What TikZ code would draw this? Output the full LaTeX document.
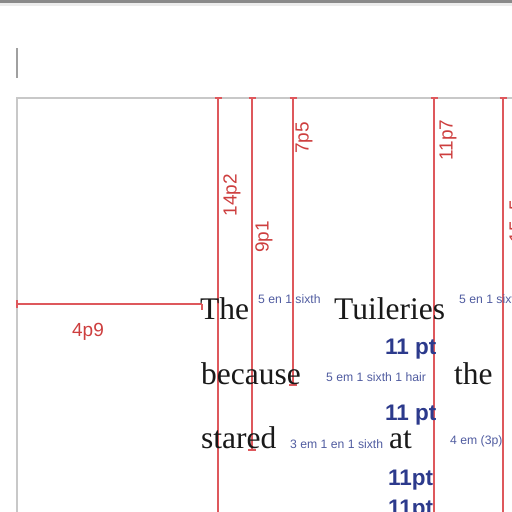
\documentclass[tikz,border=0pt]{standalone}
\usepackage{fontspec}
\setmainfont{Liberation Serif}
\setsansfont{Liberation Sans}
\definecolor{guidered}{RGB}{222,88,92}
\definecolor{labelred}{RGB}{205,62,62}
\definecolor{framegray}{RGB}{200,200,200}
\definecolor{bargray}{RGB}{138,138,138}
\definecolor{barlight}{RGB}{236,236,236}
\definecolor{cursorgray}{RGB}{160,160,160}
\definecolor{noteblue}{RGB}{80,92,160}
\definecolor{sizeblue}{RGB}{44,58,140}
\begin{document}
\begin{tikzpicture}[x=1pt,y=-1pt,
  guide/.style={draw=guidered,line width=1.4pt},
  frameline/.style={draw=framegray,line width=2pt},
  dimlabel/.style={text=labelred,font=\sffamily\fontsize{19}{19}\selectfont,inner sep=0pt},
  vlabel/.style={dimlabel,rotate=90},
  word/.style={font=\fontsize{31.5}{31.5}\selectfont,anchor=base west,inner sep=0pt,text=black!90},
  note/.style={font=\sffamily\fontsize{12.2}{12.2}\selectfont,text=noteblue,anchor=west,inner sep=0pt},
  size/.style={font=\sffamily\bfseries\fontsize{22.5}{22.5}\selectfont,text=sizeblue,anchor=base west,inner sep=0pt}]
\useasboundingbox (0,0) rectangle (512,512);
\clip (0,0) rectangle (512,512);
% top bar
\fill[bargray] (0,0) rectangle (512,3);
\fill[barlight] (0,3) rectangle (512,5.5);
% cursor
\draw[cursorgray,line width=2pt] (17,48) -- (17,78);
% frame
\draw[frameline] (17,512) -- (17,98) -- (512,98);
% horizontal dimension
\coordinate (hl) at (17,304);
\coordinate (hr) at (202,304);
\draw[guide] (hl) -- (hr);
\draw[guide] ([yshift=-4]hl) -- ([yshift=4]hl);
\draw[guide] (hr) -- ([yshift=-6]hr);
\node[dimlabel] (l49) at (88,332) {4p9};
% vertical guides
\foreach \n/\x/\yb in {a/218/512,b/252/450,c/293/385,d/434/512,e/503/512}{
  \coordinate (t\n) at (\x,98);
  \coordinate (b\n) at (\x,\yb);
  \draw[guide] (t\n) -- (b\n);
  \draw[guide] ([xshift=-3.5]t\n) -- ([xshift=3.5]t\n);
}
\draw[guide] ([xshift=-4]bb) -- ([xshift=4]bb);
\draw[guide] ([xshift=-4]bc) -- ([xshift=4]bc);
\node[vlabel] (l142) at (232,195) {14p2};
\node[vlabel] (l91) at (264,237) {9p1};
\node[vlabel] (l75) at (304,138) {7p5};
\node[vlabel] (l117) at (448,140) {11p7};
\node[vlabel] (l155) at (518,221) {15p5};
% words
\node[word] (w1) at (200,319) {The};
\node[word] (w2) at (334,319) {Tuileries};
\node[word] (w3) at (201,384) {because};
\node[word] (w4) at (454,384) {the};
\node[word] (w5) at (201,448) {stared};
\node[word] (w6) at (389,448) {at};
% notes
\node[note] (n1) at (258,299) {5 en 1 sixth};
\node[note] (n2) at (459,299) {5 en 1 sixth};
\node[note] (n3) at (326,377) {5 em 1 sixth 1 hair};
\node[note] (n4) at (290,444) {3 em 1 en 1 sixth};
\node[note] (n5) at (450,441) {4 em (3p)};
% sizes
\node[size] (s1) at (385,354) {11 pt};
\node[size] (s2) at (385,420) {11 pt};
\node[size] (s3) at (388,485) {11pt};
\node[size] (s4) at (388,515) {11pt};
\end{tikzpicture}
\end{document}
